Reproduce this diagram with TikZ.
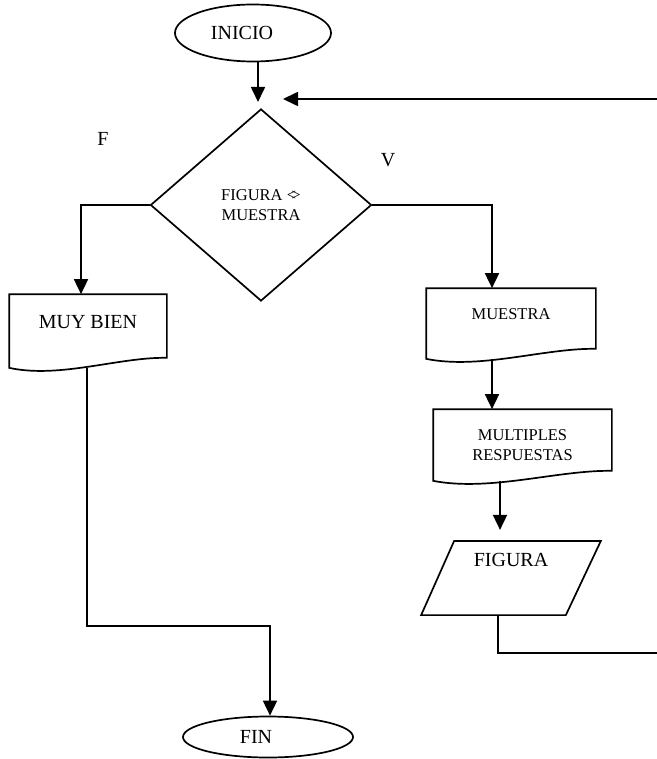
\documentclass[tikz,border=0pt]{standalone}
\usepackage{fontspec}
\setmainfont{Liberation Serif}
\usetikzlibrary{shapes.geometric,arrows.meta,calc}

% outline of a "document" box: flat top, wavy bottom
\newcommand\drawdocument[1]{%
  \draw (#1.north west) -- (#1.north east) -- ($(#1.south east)+(0,-10)$)
    .. controls ($(#1.south east)!0.3!(#1.south west)+(0,-11)$)
           and ($(#1.south west)!0.32!(#1.south east)+(0,11)$) .. (#1.south west)
    -- cycle;}

\begin{document}
\begin{tikzpicture}[x=1pt,y=-1pt,line width=1.7pt,
  big/.style={font=\fontsize{20}{22}\selectfont},
  small/.style={font=\fontsize{16.5}{20}\selectfont},
  flow/.style={-{Triangle[length=15pt,width=14pt]}},
  terminal/.style={ellipse,draw,inner sep=0pt,big},
  decision/.style={diamond,draw,inner sep=0pt,small,align=center},
  docbox/.style={rectangle,inner sep=0pt},
  iobox/.style={rectangle,inner sep=0pt,big}]
\useasboundingbox (0,0) rectangle (656,759);

% start / end
\node[terminal,minimum width=156pt,minimum height=57pt] (inicio) at (253,33) {INICIO\hspace*{22pt}};
\node[terminal,minimum width=170pt,minimum height=41pt] (fin) at (268,737) {FIN\hspace*{24pt}};

% decision
\node[decision,minimum width=221pt,minimum height=192pt] (cond) at (261,205) {FIGURA <\kern-.28em>\\MUESTRA};
\node[big] (lf) at (103,139) {F};
\node[big] (lv) at (388,160) {V};

% document boxes
\node[docbox,big,minimum width=156pt,minimum height=72pt,text height=13pt,text depth=18pt] (muybien) at (88,331) {MUY BIEN};
\node[docbox,small,minimum width=168pt,minimum height=69pt,text height=11pt,text depth=19pt] (muestra) at (511,323.5) {MUESTRA};
\node[docbox,small,align=center,minimum width=177pt,minimum height=70pt] (multi) at (522.5,445) {MULTIPLES\\RESPUESTAS};
\drawdocument{muybien}
\drawdocument{muestra}
\drawdocument{multi}

% input / output
\node[iobox,minimum width=178pt,minimum height=72.5pt,text height=13pt,text depth=36pt] (figura) at (511,578) {FIGURA};
\draw ($(figura.north west)+(33,0)$) -- (figura.north east) -- ($(figura.south east)+(-35,0)$) -- (figura.south west) -- cycle;

% connectors
\coordinate (j) at (258,102);
\coordinate (loopin) at (283,99);
\coordinate (lbend) at (81,205);
\coordinate (rbend) at (492,205);
\coordinate (mx) at (500,480);
\coordinate (fbend) at (498,653);
\coordinate (rcorner) at (664,653);
\coordinate (rtop) at (664,99);
\coordinate (lb) at (87,626);
\coordinate (fx) at (270,626);

\draw[flow] (inicio.south -| j) -- (j);
\draw[flow] (cond.west) -- (lbend) -- (lbend |- muybien.north);
\draw[flow] (cond.east) -- (rbend) -- (rbend |- muestra.north);
\draw[flow] (muestra.south -| rbend) -- (multi.north -| rbend);
\draw[flow,shorten >=11pt] (multi.south -| mx) -- (figura.north -| mx);
\draw[flow] (figura.south -| fbend) -- (fbend) -- (rcorner) -- (rtop) -- (loopin);
\draw[flow] (muybien.south -| lb) -- (lb) -- (fx) -- (fx |- fin.north);
\end{tikzpicture}
\end{document}
